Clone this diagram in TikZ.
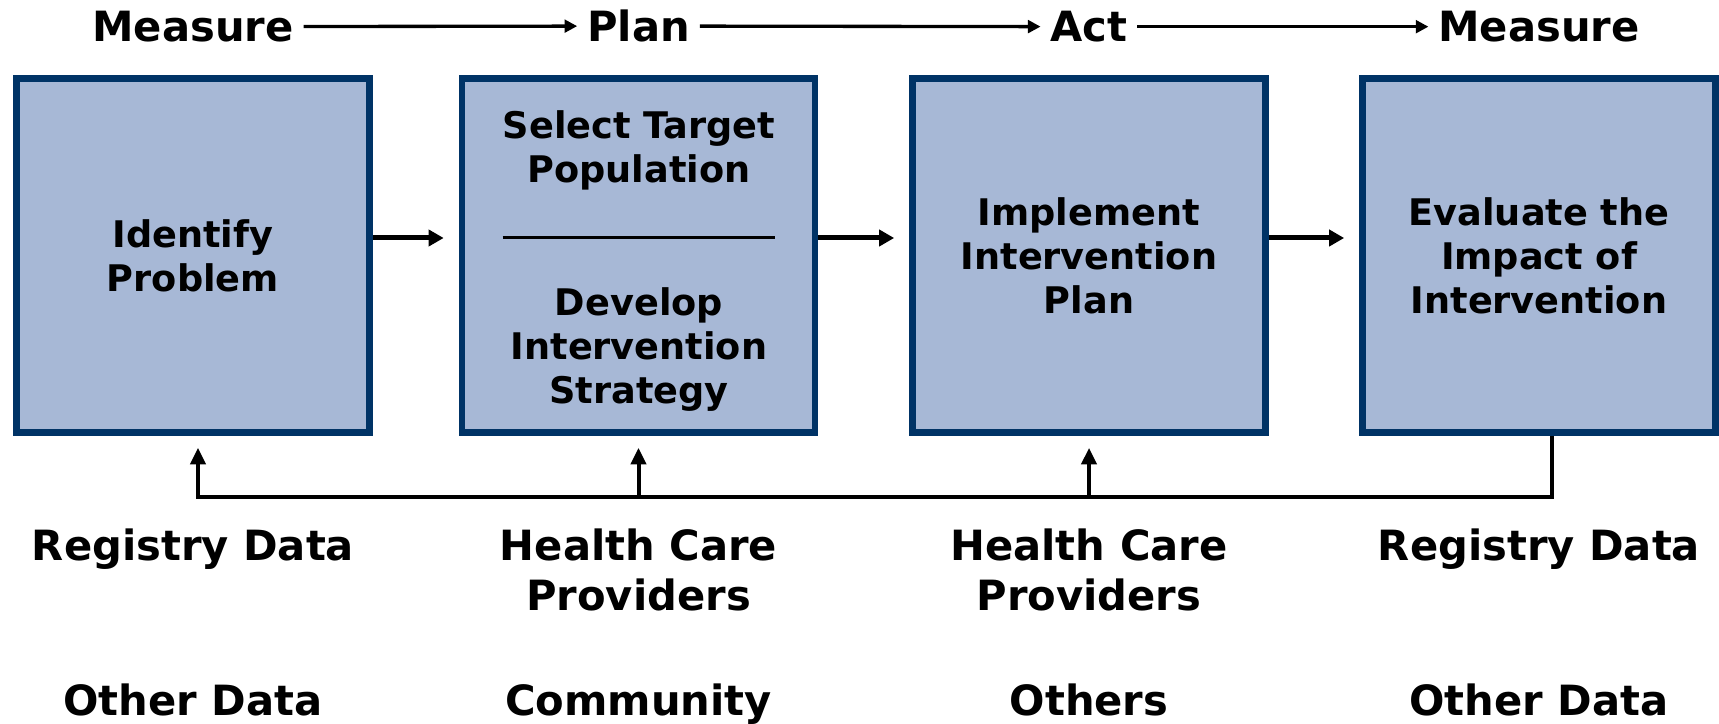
\documentclass[tikz,border=0pt]{standalone}
\usepackage{fontspec}
\usepackage{tikz}
\usetikzlibrary{arrows.meta,positioning}
\newfontfamily\stagefont{DejaVu Sans}
\definecolor{boxfill}{RGB}{167,184,214}
\definecolor{boxline}{RGB}{0,51,102}

\begin{document}
\begin{tikzpicture}[x=0.3pt,y=-0.3pt,
      stage_text/.style={
         align=center,
         inner sep=0pt,
         font=\stagefont\bfseries\fontsize{11}{13.2}\selectfont},
      stage_box/.style={
         stage_text,
         rectangle,
         draw=boxline,
         fill=boxfill,
         line width=2pt,
         minimum width=105.9pt,
         minimum height=106.2pt},
      top_label/.style={
         inner sep=0pt,
         outer sep=0pt,
         font=\stagefont\bfseries\fontsize{12.5}{15}\selectfont},
      src_label/.style={
         top_label,
         align=center},
      arrow_top/.style={
         -{Triangle[length=3.8pt,width=3.8pt]},
         line width=1pt,
         shorten <=3pt,
         shorten >=3pt},
      arrow_flow/.style={
         -{Triangle[length=4.5pt,width=4.8pt]},
         line width=1.5pt,
         shorten >=4.5pt},
      arrow_back/.style={
         -{Triangle[length=5pt,width=4.5pt]},
         line width=1.2pt,
         shorten >=3.6pt}
]
      \useasboundingbox (0,0) rectangle (1719,724);

      %stages
      \node[stage_box] (b1) at (193,255.5) {Identify\\Problem};
      \node[stage_box] (b2) at (638.5,255.5) {};
      \node[stage_box] (b3) at (1089,255.5) {Implement\\Intervention\\Plan};
      \node[stage_box] (b4) at (1539,255.5) {Evaluate the\\Impact of\\Intervention};

      \node[stage_text] (sel) at (639,150) {Select Target\\Population};
      \node[stage_text] (dev) at (639,350) {Develop\\Intervention\\Strategy};
      \draw[line width=0.9pt] ([xshift=13.2pt,yshift=5.25pt]b2.west) -- ([xshift=-12.9pt,yshift=5.25pt]b2.east);

      %cycle on top
      \node[top_label,above=9.9pt of b1] (m1) {Measure};
      \node[top_label,above=9.9pt of b2] (pl) {Plan};
      \node[top_label,above=9.9pt of b3] (ac) {Act};
      \node[top_label,above=9.9pt of b4] (m2) {Measure};

    \foreach \i/\j in {m1/pl, pl/ac, ac/m2}
      \draw [arrow_top] (\i) -- (\j);

    \foreach \i/\j in {b1/b2, b2/b3, b3/b4}
      \draw [arrow_flow] ([yshift=5.25pt]\i.east) -- ([yshift=5.25pt]\j.west);

      %feedback
      \coordinate (fb) at (0,497);
      \draw[arrow_back] ([xshift=3.9pt]b4.south) -- ++(0,61) -| ([xshift=1.5pt]b1.south);
    \foreach \b in {b2,b3}
      \draw [arrow_back] (\b.south |- fb) -- (\b.south);

      %sources
      \node[src_label,below=28pt of b1] (r1) {Registry Data};
      \node[src_label,below=28pt of b2] (h1) {Health Care\\Providers};
      \node[src_label,below=28pt of b3] (h2) {Health Care\\Providers};
      \node[src_label,below=28pt of b4] (r2) {Registry Data};
      \node[src_label,below=74.5pt of b1] (o1) {Other Data};
      \node[src_label,below=74.5pt of b2] (cm) {Community};
      \node[src_label,below=74.5pt of b3] (ot) {Others};
      \node[src_label,below=74.5pt of b4] (o2) {Other Data};
\end{tikzpicture}
\end{document}
